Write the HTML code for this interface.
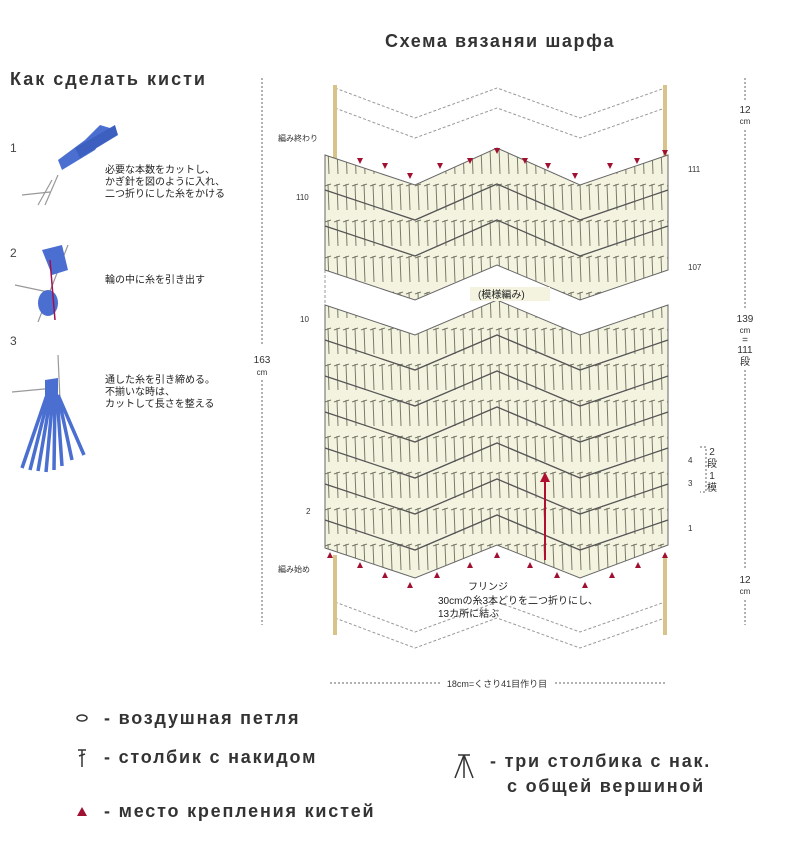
<!DOCTYPE html>
<html><head><meta charset="utf-8"><style>
body{margin:0;background:#fff;width:800px;height:847px;overflow:hidden;font-family:"Liberation Sans","Noto Sans CJK JP",sans-serif}
</style></head><body>
<svg width="800" height="847" xmlns="http://www.w3.org/2000/svg" font-family="Liberation Sans, Noto Sans CJK JP, sans-serif">
<defs>
<pattern id="st" width="9" height="36" patternUnits="userSpaceOnUse">
<rect width="9" height="36" fill="#f3f3e0"/>
<line x1="4" y1="4" x2="5" y2="30" stroke="#7a7a6a" stroke-width="1"/>
<line x1="1" y1="6" x2="7" y2="4" stroke="#7a7a6a" stroke-width="1"/>
</pattern>
</defs>
<text x="385" y="47" font-size="18" font-weight="bold" fill="#333" letter-spacing="1.6">Схема вязаняи шарфа</text>
<text x="10" y="85" font-size="18" font-weight="bold" fill="#333" letter-spacing="2">Как сделать кисти</text>

<text x="10" y="152" font-size="12" fill="#444">1</text>
<text x="10" y="257" font-size="12" fill="#444">2</text>
<text x="10" y="345" font-size="12" fill="#444">3</text>
<g stroke="#999" fill="none" stroke-width="1.2"><path d="M22 195 L50 192 M38 205 L52 180 M45 205 L58 175 M15 285 L48 292 M38 322 L68 245 M12 392 L55 388 M58 355 L60 400"/></g>
<path d="M58 160 L85 140 L100 125 L110 128 L95 150 L62 170 Z" fill="#4a6fd0"/>
<path d="M75 148 L115 125 L118 135 L80 158 Z" fill="#3d5fc0"/>
<path d="M42 250 L62 245 L68 270 L52 275 Z" fill="#4a6fd0"/>
<ellipse cx="48" cy="303" rx="10" ry="13" fill="#4a6fd0"/>
<path d="M50 260 L55 320" stroke="#a01050" stroke-width="1.5"/>
<path d="M45 380 L58 378 L58 395 L45 395 Z" fill="#4a6fd0"/>
<g stroke="#4a6fd0" stroke-width="3.5" fill="none"><path d="M47 395 L22 468 M49 395 L30 470 M51 395 L38 471 M53 395 L46 472 M55 395 L54 470 M57 395 L62 466 M58 395 L72 460 M58 395 L84 455"/></g>
<g font-size="10" fill="#222"><text x="105" y="173">必要な本数をカットし、</text><text x="105" y="185">かぎ針を図のように入れ、</text><text x="105" y="197">二つ折りにした糸をかける</text>
<text x="105" y="283">輪の中に糸を引き出す</text>
<text x="105" y="383">通した糸を引き締める。</text><text x="105" y="395">不揃いな時は、</text><text x="105" y="407">カットして長さを整える</text></g>

<g stroke="#999" stroke-dasharray="3,2" fill="none" stroke-width="1">
<polyline points="335,88 415,118 497,88 580,118 665,88"/>
<polyline points="335,108 415,138 497,108 580,138 665,108"/>
<polyline points="335,602 415,632 497,602 580,632 665,602"/>
<polyline points="335,618 415,648 497,618 580,648 665,618"/>
<line x1="325" y1="270" x2="325" y2="310"/>
</g>
<g stroke="#d8c48a" stroke-width="4"><line x1="335" y1="85" x2="335" y2="160"/><line x1="665" y1="85" x2="665" y2="160"/><line x1="335" y1="555" x2="335" y2="635"/><line x1="665" y1="555" x2="665" y2="635"/></g>

<polygon points="325,155 415,185 497,148 580,185 668,155 668,270 580,300 497,265 415,300 325,270" fill="url(#st)" stroke="#666"/>
<polygon points="325,305 415,335 497,300 580,335 668,305 668,545 580,578 497,545 415,578 325,548" fill="url(#st)" stroke="#666"/>
<g stroke="#555" fill="none" stroke-width="1.3">
<polyline points="325,190 415,220 497,184 580,220 668,190"/>
<polyline points="325,226 415,256 497,220 580,256 668,226"/>
<polyline points="325,340 415,370 497,335 580,370 668,340"/>
<polyline points="325,376 415,406 497,371 580,406 668,376"/>
<polyline points="325,412 415,442 497,407 580,442 668,412"/>
<polyline points="325,448 415,478 497,443 580,478 668,448"/>
<polyline points="325,484 415,514 497,479 580,514 668,484"/>
<polyline points="325,520 415,550 497,515 580,550 668,520"/>
</g>
<rect x="470" y="287" width="80" height="14" fill="#f3f3e0"/>
<text x="478" y="298" font-size="10" fill="#222">(模様編み)</text>
<line x1="545" y1="560" x2="545" y2="478" stroke="#b01030" stroke-width="2"/>
<polygon points="540,482 545,472 550,482" fill="#b01030"/>
<g fill="#a01030">
<polygon points="357,158 363,158 360,164"/><polygon points="382,163 388,163 385,169"/><polygon points="407,173 413,173 410,179"/><polygon points="437,163 443,163 440,169"/><polygon points="467,158 473,158 470,164"/><polygon points="494,148 500,148 497,154"/><polygon points="522,158 528,158 525,164"/><polygon points="545,163 551,163 548,169"/><polygon points="572,173 578,173 575,179"/><polygon points="607,163 613,163 610,169"/><polygon points="634,158 640,158 637,164"/><polygon points="662,150 668,150 665,156"/>
<polygon points="330,552 333,558 327,558"/><polygon points="360,562 363,568 357,568"/><polygon points="385,572 388,578 382,578"/><polygon points="410,582 413,588 407,588"/><polygon points="437,572 440,578 434,578"/><polygon points="470,562 473,568 467,568"/><polygon points="497,552 500,558 494,558"/><polygon points="530,562 533,568 527,568"/><polygon points="557,572 560,578 554,578"/><polygon points="585,582 588,588 582,588"/><polygon points="612,572 615,578 609,578"/><polygon points="638,562 641,568 635,568"/><polygon points="665,552 668,558 662,558"/>
</g>
<g font-size="8" fill="#333">
<text x="278" y="141">編み終わり</text><text x="278" y="572">編み始め</text>
<text x="296" y="200">110</text><text x="300" y="322">10</text><text x="306" y="514">2</text>
<text x="688" y="172">111</text><text x="688" y="270">107</text><text x="688" y="463">4</text><text x="688" y="486">3</text><text x="688" y="531">1</text>
</g>
<g font-size="10" fill="#222"><text x="468" y="590">フリンジ</text><text x="438" y="604">30cmの糸3本どりを二つ折りにし、</text><text x="438" y="617">13カ所に結ぶ</text></g>

<g stroke="#666" stroke-dasharray="2,2" fill="none"><line x1="262" y1="78" x2="262" y2="345"/><line x1="262" y1="380" x2="262" y2="625"/>
<line x1="745" y1="78" x2="745" y2="100"/><line x1="745" y1="130" x2="745" y2="310"/><line x1="745" y1="370" x2="745" y2="570"/><line x1="745" y1="600" x2="745" y2="625"/>
<line x1="330" y1="683" x2="440" y2="683"/><line x1="555" y1="683" x2="665" y2="683"/>
<polyline points="700,447 706,447 706,492 700,492"/></g>
<g font-size="10" fill="#333" text-anchor="middle">
<text x="262" y="363">163</text><text x="262" y="375" font-size="8">cm</text>
<text x="745" y="113">12</text><text x="745" y="124" font-size="8">cm</text>
<text x="745" y="322">139</text><text x="745" y="333" font-size="8">cm</text><text x="745" y="343">=</text><text x="745" y="353">111</text><text x="745" y="365">段</text>
<text x="745" y="583">12</text><text x="745" y="594" font-size="8">cm</text>
<text x="712" y="455">2</text><text x="712" y="467">段</text><text x="712" y="479">1</text><text x="712" y="491">模</text>
<text x="497" y="687" font-size="9">18cm=くさり41目作り目</text>
</g>

<ellipse cx="82" cy="718" rx="5" ry="3" fill="none" stroke="#333" stroke-width="1.5"/>
<g stroke="#333" stroke-width="1.5"><line x1="78" y1="750" x2="86" y2="750"/><line x1="82" y1="750" x2="82" y2="767"/><line x1="79" y1="756" x2="85" y2="754"/>
<line x1="458" y1="755" x2="470" y2="755"/><line x1="464" y1="755" x2="455" y2="778"/><line x1="464" y1="755" x2="464" y2="778"/><line x1="464" y1="755" x2="473" y2="778"/></g>
<polygon points="77,816 87,816 82,807" fill="#a01030"/>
<g font-size="18" font-weight="bold" fill="#333" letter-spacing="1.8">
<text x="104" y="724">- воздушная петля</text>
<text x="104" y="763">- столбик с накидом</text>
<text x="104" y="817">- место крепления кистей</text>
<text x="490" y="767">- три столбика с нак.</text>
<text x="507" y="792">с общей вершиной</text>
</g>
</svg>
</body></html>
